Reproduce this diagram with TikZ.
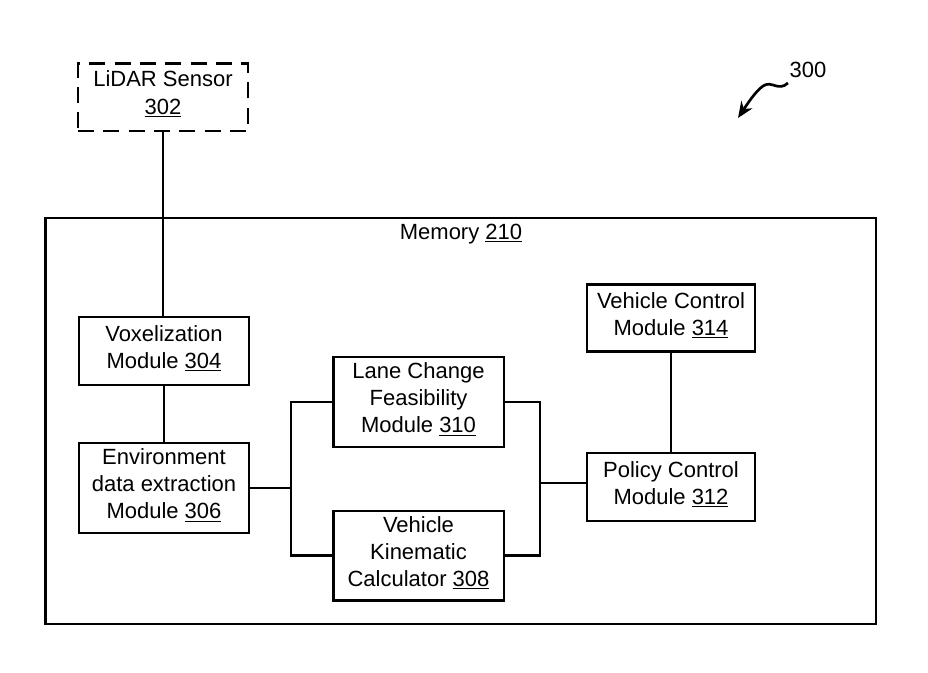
\documentclass[tikz,border=0pt]{standalone}
\usepackage{fontspec}
\setmainfont{Liberation Sans}
\usetikzlibrary{arrows.meta}
\begin{document}
\begin{tikzpicture}[x=0.75pt,y=-0.75pt,
  every node/.style={font=\fontsize{16.5pt}{20.3pt}\selectfont, inner sep=0pt, align=center},
  box/.style={draw, line width=2pt, rectangle, text depth=6.5pt},
  conn/.style={line width=2pt}]
\useasboundingbox (0,0) rectangle (928,673);
% memory frame
\node[box, minimum width=623pt, minimum height=304.5pt] (mem) at (460.5,421) {};
\node (memlbl) at (461,234) {Memory \underline{210}};
% lidar
\node[draw, line width=2pt, dash pattern=on 12pt off 7pt, text depth=7.5pt, minimum width=127.5pt, minimum height=50.5pt] (lidar) at (163,97.5) {LiDAR Sensor\\\underline{302}};
% modules
\node[box, minimum width=127.5pt, minimum height=51pt] (vox) at (164,351) {Voxelization\\Module \underline{304}};
\node[box, minimum width=127.5pt, minimum height=67.5pt] (env) at (164,488) {Environment\\data extraction\\Module \underline{306}};
\node[box, minimum width=128pt, minimum height=67.5pt] (lane) at (418.5,402) {Lane Change\\Feasibility\\Module \underline{310}};
\node[box, minimum width=128pt, minimum height=67pt] (kin) at (418.5,555.5) {Vehicle\\Kinematic\\Calculator \underline{308}};
\node[box, minimum width=126pt, minimum height=51pt] (pol) at (671,487) {Policy Control\\Module \underline{312}};
\node[box, minimum width=126pt, minimum height=50.5pt] (vc) at (671,318) {Vehicle Control\\Module \underline{314}};
% connectors
\coordinate (jl) at (291,487);
\coordinate (jr) at (540,483);
\draw[conn] (lidar.south) -- (lidar.south |- vox.north);
\draw[conn] (vox.south) -- (env.north);
\draw[conn] (env.east) -- (env.east -| jl);
\draw[conn] (lane.west) -| (jl) |- (kin.west);
\draw[conn] (lane.east) -| (jr) |- (kin.east);
\draw[conn] (jr) -- (jr -| pol.west);
\draw[conn] (vc.south) -- (pol.north);
% reference label 300
\node (ref) at (808,70) {300};
\coordinate (refstart) at (788,83);
\coordinate (reftip) at (738,118);
\draw[conn, -{Stealth[length=12pt,width=10pt]}] (refstart) .. controls (778,92) and (772,80) .. (763,86) .. controls (755,92) and (748,103) .. (reftip);
\end{tikzpicture}
\end{document}
